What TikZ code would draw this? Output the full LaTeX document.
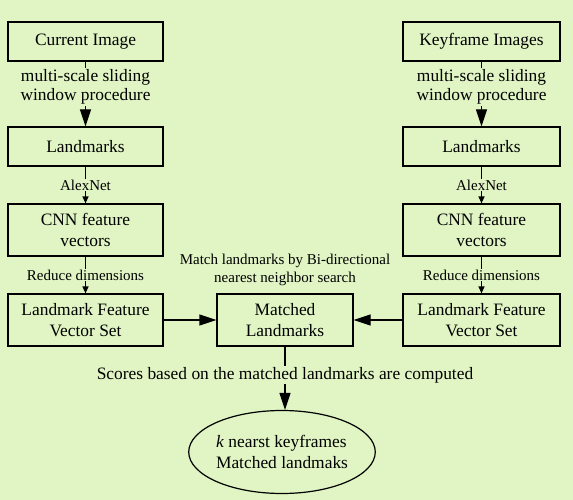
\documentclass[tikz,border=0pt]{standalone}
\usepackage{fontspec}
\setmainfont{Liberation Serif}
\usetikzlibrary{arrows.meta,shapes.geometric}
\definecolor{bg}{RGB}{224,245,195}
\begin{document}
\begin{tikzpicture}[x=1pt,y=-1pt,
  box/.style={draw,line width=1.2pt,fill=bg,minimum width=155pt,minimum height=39pt,align=center,inner sep=0pt,font=\fontsize{17.4}{21}\selectfont},
  tallbox/.style={box,minimum height=52pt},
  bigarrow/.style={line width=1.2pt,-{Triangle[length=17pt,width=11pt]}},
  smallarrow/.style={line width=1.2pt,-{Triangle[length=7pt,width=6pt]}},
  biglbl/.style={fill=bg,inner sep=1.5pt,align=center,font=\fontsize{17.4}{19}\selectfont},
  smalllbl/.style={fill=bg,inner sep=1pt,align=center,font=\fontsize{15}{18}\selectfont},
  ell/.style={draw,line width=1.2pt,ellipse,minimum width=164pt,minimum height=83pt,inner sep=0pt,align=left,font=\fontsize{17.4}{20.5}\selectfont}
]
\fill[bg] (0,0) rectangle (573,500);
\useasboundingbox (0,0) rectangle (573,500);

% left column
\node[box] (ci) at (85.5,41.5) {Current Image};
\node[box] (lm1) at (85.5,146.5) {Landmarks};
\node[tallbox] (cnn1) at (85.5,230) {CNN feature\\vectors};
\node[tallbox] (lf1) at (85.5,320) {Landmark Feature\\Vector Set};

% right column
\node[box,minimum width=157pt] (ki) at (481.5,41.5) {Keyframe Images};
\node[box,minimum width=157pt] (lm2) at (481.5,146.5) {Landmarks};
\node[tallbox,minimum width=157pt] (cnn2) at (481.5,230) {CNN feature\\vectors};
\node[tallbox,minimum width=157pt] (lf2) at (481.5,320) {Landmark Feature\\Vector Set};

% middle
\node[tallbox,minimum width=136pt] (ml) at (285,320) {Matched\\Landmarks};
\node[ell] (res) at (282,452) {\textit{k} nearst keyframes\\Matched landmaks};
\node[align=center,font=\fontsize{15}{18}\selectfont] (mlbl) at (285,270) {Match landmarks by Bi-directional\\nearest neighbor search};

% connectors
\draw[bigarrow] (ci) -- node[biglbl,pos=0.39] (l1) {multi-scale sliding\\window procedure} (lm1);
\draw[bigarrow] (ki) -- node[biglbl,pos=0.39] (l2) {multi-scale sliding\\window procedure} (lm2);
\draw[smallarrow] (lm1) -- node[smalllbl] (l3) {AlexNet} (cnn1);
\draw[smallarrow] (lm2) -- node[smalllbl] (l4) {AlexNet} (cnn2);
\draw[smallarrow] (cnn1) -- node[smalllbl] (l5) {Reduce dimensions} (lf1);
\draw[smallarrow] (cnn2) -- node[smalllbl] (l6) {Reduce dimensions} (lf2);
\draw[bigarrow] (lf1) -- (ml);
\draw[bigarrow] (lf2) -- (ml);
\draw[bigarrow] (ml.south) -- node[biglbl,pos=0.45,inner sep=1pt] (l7) {Scores based on the matched landmarks are computed} (ml.south |- res.north);
\end{tikzpicture}
\end{document}
